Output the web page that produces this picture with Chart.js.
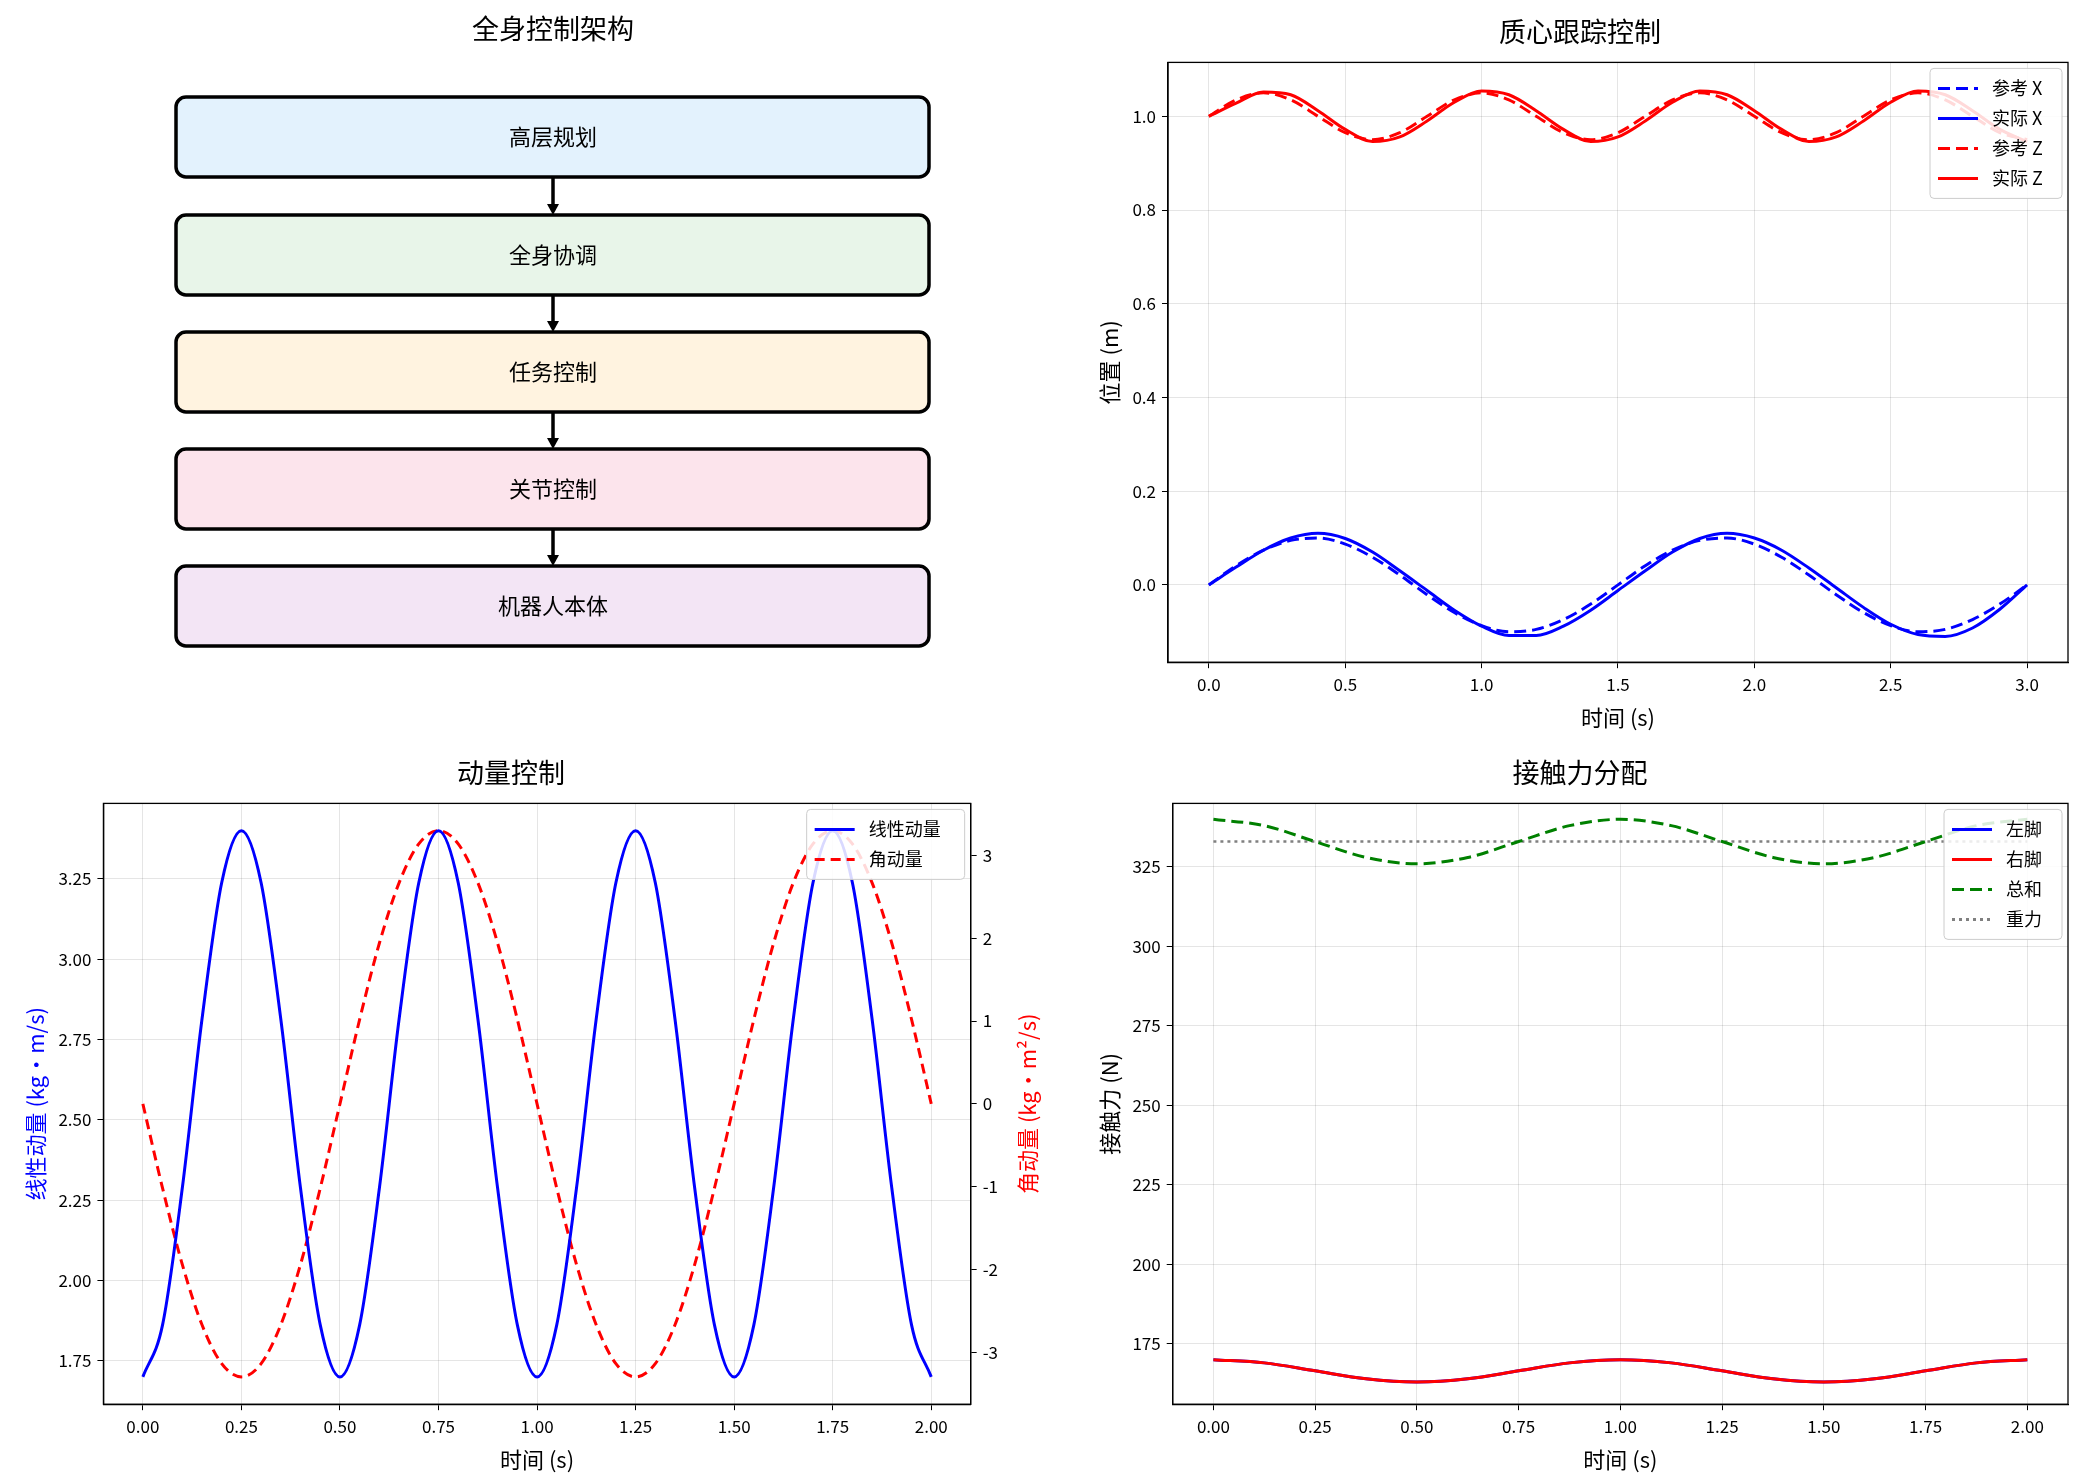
<!DOCTYPE html>
<html><head><meta charset="utf-8">
<script src="https://cdn.jsdelivr.net/npm/chart.js@4.4.0/dist/chart.umd.min.js"></script>
<style>
body{margin:0;background:#fff;width:2084px;height:1483px;overflow:hidden;position:relative}
.p{position:absolute}
</style></head><body>
<div class="p" style="left:0;top:0;width:1060px;height:700px"><canvas id="c0"></canvas></div>
<div class="p" style="left:1060px;top:0;width:1024px;height:741px"><canvas id="c1"></canvas></div>
<div class="p" style="left:0;top:741px;width:1042px;height:742px"><canvas id="c2"></canvas></div>
<div class="p" style="left:1060px;top:741px;width:1024px;height:742px"><canvas id="c3"></canvas></div>
<script>
// ---- data ----
const archLabels = ['高层规划','全身协调','任务控制','关节控制','机器人本体'];
const archColors = ['#e3f2fd','#e8f5e9','#fff3e0','#fce4ec','#f3e5f5'];
const archY = [137,255,372,489,606];

const comTime = [0,0.1,0.2,0.3,0.4,0.5,0.6,0.7,0.8,0.9,1.0,1.1,1.2,1.3,1.4,1.5,1.6,1.7,1.8,1.9,2.0,2.1,2.2,2.3,2.4,2.5,2.6,2.7,2.8,2.9,3.0];
const refX = [0,0.041,0.074,0.095,0.1,0.087,0.059,0.021,-0.021,-0.059,-0.087,-0.1,-0.095,-0.074,-0.041,0,0.041,0.074,0.095,0.1,0.087,0.059,0.021,-0.021,-0.059,-0.087,-0.1,-0.095,-0.074,-0.041,0];
const actX = [0,0.038,0.074,0.1,0.11,0.099,0.07,0.03,-0.012,-0.054,-0.088,-0.108,-0.108,-0.088,-0.054,-0.012,0.03,0.07,0.099,0.11,0.1,0.074,0.036,-0.006,-0.048,-0.084,-0.106,-0.11,-0.092,-0.052,0];
const refZ = [1,1.035,1.05,1.035,1,0.965,0.95,0.965,1,1.035,1.05,1.035,1,0.965,0.95,0.965,1,1.035,1.05,1.035,1,0.965,0.95,0.965,1,1.035,1.05,1.035,1,0.965,0.95];
const actZ = [1,1.028,1.052,1.046,1.012,0.972,0.946,0.956,0.99,1.03,1.054,1.046,1.012,0.972,0.946,0.956,0.99,1.03,1.054,1.046,1.012,0.972,0.946,0.956,0.99,1.03,1.054,1.046,1.012,0.972,0.946];

const momTime = [0,0.05,0.1,0.15,0.2,0.25,0.3,0.35,0.4,0.45,0.5,0.55,0.6,0.65,0.7,0.75,0.8,0.85,0.9,0.95,1.0,1.05,1.1,1.15,1.2,1.25,1.3,1.35,1.4,1.45,1.5,1.55,1.6,1.65,1.7,1.75,1.8,1.85,1.9,1.95,2.0];
const linMom = [1.7,1.862,2.287,2.813,3.238,3.4,3.238,2.813,2.287,1.862,1.7,1.862,2.287,2.813,3.238,3.4,3.238,2.813,2.287,1.862,1.7,1.862,2.287,2.813,3.238,3.4,3.238,2.813,2.287,1.862,1.7,1.862,2.287,2.813,3.238,3.4,3.238,2.813,2.287,1.862,1.7];
const angMom = [0,-1.02,-1.94,-2.67,-3.14,-3.3,-3.14,-2.67,-1.94,-1.02,0,1.02,1.94,2.67,3.14,3.3,3.14,2.67,1.94,1.02,0,-1.02,-1.94,-2.67,-3.14,-3.3,-3.14,-2.67,-1.94,-1.02,0,1.02,1.94,2.67,3.14,3.3,3.14,2.67,1.94,1.02,0];

const forceTime = [0,0.125,0.25,0.375,0.5,0.625,0.75,0.875,1.0,1.125,1.25,1.375,1.5,1.625,1.75,1.875,2.0];
const leftF = [170,169,166.5,164,163,164,166.5,169,170,169,166.5,164,163,164,166.5,169,170];
const rightF = [170,169,166.5,164,163,164,166.5,169,170,169,166.5,164,163,164,166.5,169,170];
const totalF = [340,338,333,328,326,328,333,338,340,338,333,328,326,328,333,338,340];
const gravityF = [333,333,333,333,333,333,333,333,333,333,333,333,333,333,333,333,333];

const comXTicks=[0,0.5,1,1.5,2,2.5,3], comYTicks=[0,0.2,0.4,0.6,0.8,1.0];
const momXTicks=[0,0.25,0.5,0.75,1,1.25,1.5,1.75,2], linTicks=[1.75,2,2.25,2.5,2.75,3,3.25], angTicks=[-3,-2,-1,0,1,2,3];
const fYTicks=[175,200,225,250,275,300,325];

// ---- helpers ----
const FONT='"Noto Sans CJK SC","DejaVu Sans",sans-serif';
Chart.defaults.font.family=FONT;
Chart.defaults.color='#000';
Chart.defaults.animation=false;
const xy=(t,v)=>t.map((x,i)=>({x,y:v[i]}));
function ds(label,t,v,color,dash,extra){return Object.assign({label,data:xy(t,v),borderColor:color,backgroundColor:color,borderWidth:3,borderDash:dash||[],pointRadius:0,tension:0.4,cubicInterpolationMode:'monotone'},extra||{});}
function fixed(list){return function(a){a.ticks=list.map(v=>({value:v}));};}
function axis(min,max,list,dec,title,pos,color){
  return {type:'linear',position:pos||'left',min,max,afterBuildTicks:fixed(list),
    border:{color:'#000',width:1.3},
    grid:{color:'rgba(0,0,0,0.1)',tickLength:6,tickColor:'#000',drawOnChartArea:true},
    ticks:{font:{size:17},padding:6,callback:v=>dec==null?v:Number(v).toFixed(dec)},
    title:title?{display:true,text:title,font:{size:22},color:color||'#000',padding:4}:{display:false}};
}
const framePlugin={id:'frame',afterDraw(ch){const c=ch.ctx,a=ch.chartArea;c.save();c.strokeStyle='#000';c.lineWidth=1.3;c.strokeRect(a.left,a.top,a.right-a.left,a.bottom-a.top);
  const rt=ch.options.plugins.frame&&ch.options.plugins.frame.rightTitle;
  if(rt){c.translate(ch.width-14,(a.top+a.bottom)/2);c.rotate(-Math.PI/2);c.font='22px '+FONT;c.fillStyle=rt.color;c.textAlign='center';c.textBaseline='middle';c.fillText(rt.text,0,0);}
  c.restore();}};
const legendPlugin={id:'boxLegend',afterDatasetsDraw(ch,a,o){
  const op=ch.options.plugins.boxLegend; if(!op) return;
  const c=ch.ctx,ca=ch.chartArea; const items=ch.data.datasets.filter(d=>d.label);
  c.save(); c.font='18px '+FONT;
  const lh=30,w=op.w,h=items.length*lh+10; const x0=ca.right-w-6,y0=ca.top+6;
  c.fillStyle='rgba(255,255,255,0.85)'; c.strokeStyle='#ccc'; c.lineWidth=1;
  c.beginPath(); c.roundRect(x0,y0,w,h,4); c.fill(); c.stroke();
  items.forEach((d,i)=>{const y=y0+8+lh*i+lh/2-3;
    c.strokeStyle=d.borderColor;c.lineWidth=3;c.setLineDash(d.borderDash||[]);
    c.beginPath();c.moveTo(x0+8,y);c.lineTo(x0+48,y);c.stroke();c.setLineDash([]);
    c.fillStyle='#000';c.textBaseline='middle';c.textAlign='left';c.fillText(d.label,x0+62,y);});
  c.restore();}};
const titleOpt=t=>({display:true,text:t,font:{size:27,weight:'normal'},padding:{top:10,bottom:14}});

// ---- architecture diagram ----
const archPlugin={id:'arch',afterDraw(ch){
  const c=ch.ctx,X=ch.scales.x,Y=ch.scales.y;
  c.save();
  c.font='27px '+FONT; c.fillStyle='#000'; c.textAlign='center'; c.textBaseline='middle';
  c.fillText('全身控制架构',X.getPixelForValue(553),Y.getPixelForValue(29));
  archLabels.forEach((lab,i)=>{
    const x1=X.getPixelForValue(176),x2=X.getPixelForValue(929),y1=Y.getPixelForValue(archY[i]-40),y2=Y.getPixelForValue(archY[i]+40);
    c.fillStyle=archColors[i];c.strokeStyle='#000';c.lineWidth=3.5;
    c.beginPath();c.roundRect(x1,y1,x2-x1,y2-y1,10);c.fill();c.stroke();
    c.fillStyle='#000';c.font='22px '+FONT;c.fillText(lab,X.getPixelForValue(553),Y.getPixelForValue(archY[i]));
    if(i<archLabels.length-1){
      const ax=X.getPixelForValue(553),ya=Y.getPixelForValue(archY[i]+40),yb=Y.getPixelForValue(archY[i+1]-40);
      c.lineWidth=3.5;c.beginPath();c.moveTo(ax,ya);c.lineTo(ax,yb-8);c.stroke();
      c.beginPath();c.moveTo(ax,yb);c.lineTo(ax-6,yb-11);c.lineTo(ax+6,yb-11);c.closePath();c.fill();
    }});
  c.restore();}};
new Chart(document.getElementById('c0'),{type:'scatter',data:{datasets:[{data:[]}]},plugins:[archPlugin],
  options:{responsive:true,maintainAspectRatio:false,layout:{padding:0},plugins:{legend:{display:false},tooltip:{enabled:false}},
  scales:{x:{display:false,min:0,max:1060},y:{display:false,min:0,max:700,reverse:true}}}});

// ---- CoM tracking ----
new Chart(document.getElementById('c1'),{type:'line',plugins:[legendPlugin,framePlugin],
  data:{datasets:[ds('参考 X',comTime,refX,'#0000ff',[12,6]),ds('实际 X',comTime,actX,'#0000ff'),ds('参考 Z',comTime,refZ,'#ff0000',[12,6]),ds('实际 Z',comTime,actZ,'#ff0000')]},
  options:{responsive:true,maintainAspectRatio:false,layout:{padding:{left:32,right:16,bottom:6,top:6}},
    plugins:{legend:{display:false},title:titleOpt('质心跟踪控制'),boxLegend:{w:132}},
    scales:{x:axis(-0.15,3.15,comXTicks,1,'时间 (s)','bottom'),y:axis(-0.165,1.115,comYTicks,1,'位置 (m)')}}});

// ---- momentum ----
new Chart(document.getElementById('c2'),{type:'line',plugins:[legendPlugin,framePlugin],
  data:{datasets:[ds('线性动量',momTime,linMom,'#0000ff',[],{yAxisID:'y'}),ds('角动量',momTime,angMom,'#ff0000',[10,6],{yAxisID:'y2'})]},
  options:{responsive:true,maintainAspectRatio:false,layout:{padding:{left:18,right:38,bottom:6,top:6}},
    plugins:{legend:{display:false},title:titleOpt('动量控制'),boxLegend:{w:158},frame:{rightTitle:{text:'角动量 (kg·m²/s)',color:'#ff0000'}}},
    scales:{x:axis(-0.1,2.1,momXTicks,2,'时间 (s)','bottom'),
      y:axis(1.615,3.485,linTicks,2,'线性动量 (kg·m/s)','left','#0000ff'),
      y2:Object.assign(axis(-3.63,3.63,angTicks,null,null,'right'),{grid:{drawOnChartArea:false,tickLength:6,tickColor:'#000'}})}}});

// ---- contact force ----
new Chart(document.getElementById('c3'),{type:'line',plugins:[legendPlugin,framePlugin],
  data:{datasets:[ds('左脚',forceTime,leftF,'#0000ff',[],{order:2}),ds('右脚',forceTime,rightF,'#ff0000',[],{order:1}),ds('总和',forceTime,totalF,'#008000',[12,6],{order:0}),
    ds('重力',forceTime,gravityF,'#808080',[3,4],{borderWidth:2.5,tension:0,order:0})]},
  options:{responsive:true,maintainAspectRatio:false,layout:{padding:{left:32,right:16,bottom:6,top:6}},
    plugins:{legend:{display:false},title:titleOpt('接触力分配'),boxLegend:{w:118}},
    scales:{x:axis(-0.1,2.1,momXTicks,2,'时间 (s)','bottom'),y:axis(156,345,fYTicks,null,'接触力 (N)')}}});
</script></body></html>
